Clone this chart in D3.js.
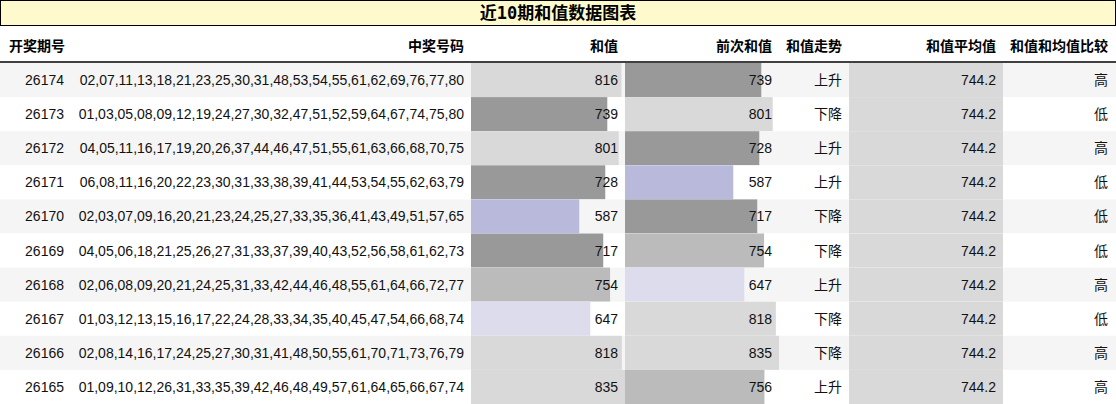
<!DOCTYPE html>
<html><head><meta charset="utf-8">
<script src="https://cdn.jsdelivr.net/npm/d3@7"></script>
<style>body{margin:0;background:#fff}text{font-family:"Liberation Sans","Noto Sans CJK SC",sans-serif}</style>
</head><body><div id="chart"></div>
<script>
const issues = [26174,26173,26172,26171,26170,26169,26168,26167,26166,26165];
const numbers = [
  "02,07,11,13,18,21,23,25,30,31,48,53,54,55,61,62,69,76,77,80",
  "01,03,05,08,09,12,19,24,27,30,32,47,51,52,59,64,67,74,75,80",
  "04,05,11,16,17,19,20,26,37,44,46,47,51,55,61,63,66,68,70,75",
  "06,08,11,16,20,22,23,30,31,33,38,39,41,44,53,54,55,62,63,79",
  "02,03,07,09,16,20,21,23,24,25,27,33,35,36,41,43,49,51,57,65",
  "04,05,06,18,21,25,26,27,31,33,37,39,40,43,52,56,58,61,62,73",
  "02,06,08,09,20,21,24,25,31,33,42,44,46,48,55,61,64,66,72,77",
  "01,03,12,13,15,16,17,22,24,28,33,34,35,40,45,47,54,66,68,74",
  "02,08,14,16,17,24,25,27,30,31,41,48,50,55,61,70,71,73,76,79",
  "01,09,10,12,26,31,33,35,39,42,46,48,49,57,61,64,65,66,67,74"];
const sums = [816,739,801,728,587,717,754,647,818,835];
const prevSums = [739,801,728,587,717,754,647,818,835,756];
const trends = ["上升","下降","上升","上升","下降","下降","上升","下降","下降","上升"];
const avg = 744.2;
const compare = ["高","低","高","低","低","低","高","低","高","高"];
const headers = ["开奖期号","中奖号码","和值","前次和值","和值走势","和值平均值","和值和均值比较"];

const W = 1116, H = 404, titleH = 26, headH = 36, rowH = 34;
const svg = d3.select("#chart").append("svg").attr("width", W).attr("height", H);

// column edges
const cols = [0, 72, 471, 625, 777, 849, 1004, W];
const y = d3.scaleBand().domain(d3.range(issues.length)).range([titleH + headH + 1, H]);
const barW = d3.scaleLinear().domain([0, 835]).range([0, 154]);
const color = v => v >= 790 ? "#d9d9d9" : v >= 750 ? "#bbbbbb" : v >= 700 ? "#999999" : v >= 620 ? "#dcdcec" : "#b9b9dc";

// title
svg.append("rect").attr("x", 0.5).attr("y", 0.5).attr("width", W - 1).attr("height", titleH - 1)
  .attr("fill", "#fffacd").attr("stroke", "#000");
svg.append("text").attr("x", W / 2).attr("y", 19).attr("text-anchor", "middle")
  .attr("font-size", 17).attr("font-weight", "bold")
  .style("font-family", "'DejaVu Sans Mono','Noto Sans CJK SC',monospace").text("近10期和值数据图表");

// header
const hx = [64, 464, 618, 772, 842, 996, 1108];
svg.selectAll(".h").data(headers).join("text")
  .attr("x", (d, i) => i === 0 ? 9 : hx[i]).attr("y", titleH + 25)
  .attr("text-anchor", (d, i) => i === 0 ? "start" : "end")
  .attr("font-size", 14).attr("font-weight", "bold").text(d => d);
svg.append("line").attr("x1", 0).attr("x2", W).attr("y1", titleH + headH).attr("y2", titleH + headH)
  .attr("stroke", "#000").attr("stroke-width", 1.5);

const rows = svg.selectAll(".row").data(issues).join("g")
  .attr("transform", (d, i) => `translate(0,${y(i)})`);
rows.append("rect").attr("width", W).attr("height", y.bandwidth())
  .attr("fill", (d, i) => i % 2 === 0 ? "#f5f5f5" : "#fff");
rows.append("rect").attr("x", cols[2]).attr("height", y.bandwidth())
  .attr("width", (d, i) => barW(sums[i])).attr("fill", (d, i) => color(sums[i]));
rows.append("rect").attr("x", cols[3]).attr("height", y.bandwidth())
  .attr("width", (d, i) => barW(prevSums[i])).attr("fill", (d, i) => color(prevSums[i]));
rows.append("rect").attr("x", cols[5]).attr("height", y.bandwidth())
  .attr("width", 154).attr("fill", "#d9d9d9");

const cellText = (i) => [issues[i], numbers[i], sums[i], prevSums[i], trends[i], avg.toFixed(1), compare[i]];
rows.selectAll("text").data((d, i) => cellText(i)).join("text")
  .attr("x", (d, j) => hx[j]).attr("y", 22).attr("text-anchor", "end")
  .attr("font-size", 14).attr("fill", "#111").text(d => d);
</script></body></html>
